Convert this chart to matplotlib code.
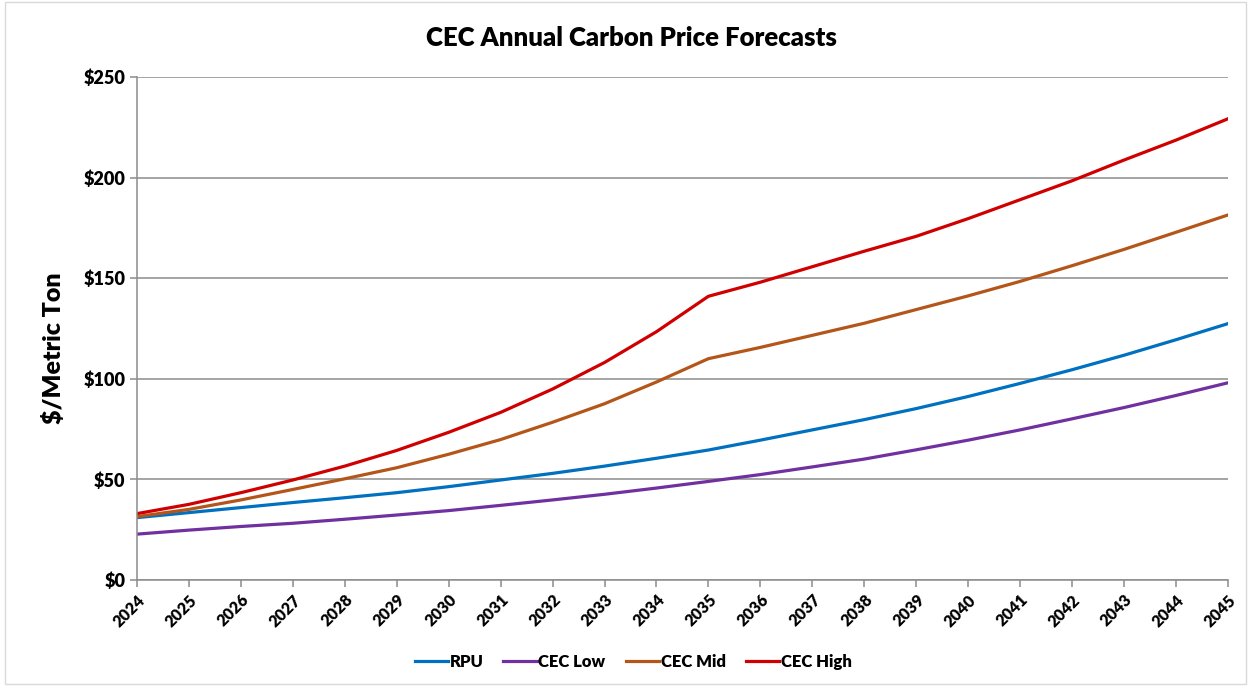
import matplotlib
matplotlib.use("Agg")
import matplotlib.pyplot as plt
from matplotlib.patches import Rectangle

years = list(range(2024, 2046))
rpu = [31.0, 33.5, 36.0, 38.5, 40.9, 43.4, 46.4, 49.7, 53.0, 56.6, 60.5,
       64.6, 69.5, 74.6, 79.7, 85.2, 91.2, 97.7, 104.5, 111.7, 119.4, 127.4]
cec_low = [22.8, 24.8, 26.6, 28.2, 30.2, 32.3, 34.5, 37.1, 39.8, 42.6, 45.7,
           49.0, 52.4, 56.2, 60.1, 64.7, 69.5, 74.6, 80.1, 85.7, 91.7, 98.0]
cec_mid = [31.5, 35.1, 39.8, 45.0, 50.3, 55.8, 62.5, 69.8, 78.4, 87.6, 98.4,
           110.0, 115.6, 121.6, 127.6, 134.4, 141.2, 148.4, 156.2, 164.3, 172.8, 181.4]
cec_high = [33.0, 37.6, 43.4, 49.7, 56.6, 64.4, 73.4, 83.3, 94.9, 108.1, 123.4,
            141.0, 148.0, 155.7, 163.4, 170.8, 179.6, 189.0, 198.4, 208.7, 218.6, 229.2]
y_ticks = [0, 50, 100, 150, 200, 250]

plt.rcParams['font.family'] = ['Lato', 'DejaVu Sans']
W = 'heavy'

fig = plt.figure(figsize=(12.51, 6.86), dpi=100)
ax = fig.add_axes([0.1095, 0.1545, 0.872, 0.7333])

series = [("RPU", rpu, "#0070C0"),
          ("CEC Low", cec_low, "#7030A0"),
          ("CEC Mid", cec_mid, "#B4561A"),
          ("CEC High", cec_high, "#D00000")]
for name, vals, col in series:
    ax.plot(years, vals, color=col, lw=2.3, label=name, solid_joinstyle='miter')

ax.set_xlim(2024, 2045)
ax.set_ylim(0, 250)
ax.set_yticks(y_ticks)
ax.set_yticklabels(["$%d" % v for v in y_ticks], fontsize=13, fontweight=W)
ax.set_xticks(years)
ax.set_xticklabels([str(y) for y in years], rotation=45, ha='right',
                   rotation_mode='anchor', fontsize=11.5, fontweight=W)
ax.grid(axis='y', color='#8c8c8c', lw=1.1)
ax.set_axisbelow(True)
for s in ['top', 'right']:
    ax.spines[s].set_visible(False)
for s in ['left', 'bottom']:
    ax.spines[s].set_color('#8c8c8c')
    ax.spines[s].set_linewidth(1.1)
ax.tick_params(color='#8c8c8c', length=5, width=1.1)

ax.set_ylabel("$/Metric Ton", fontsize=18, fontweight=W)
ax.yaxis.set_label_coords(-0.066, 0.46)
fig.text(0.505, 0.945, "CEC Annual Carbon Price Forecasts", ha='center', va='center',
         fontsize=18.5, fontweight=W)

leg = fig.legend(loc='center', bbox_to_anchor=(0.506, 0.035), ncol=4, frameon=False,
                 prop={'weight': W, 'size': 12}, handlelength=2.0,
                 handletextpad=0.1, columnspacing=1.2)

fig.patches.append(Rectangle((0.004, 0.003), 0.992, 0.994, transform=fig.transFigure,
                             fill=False, edgecolor='#d9d9d9', lw=1))

fig.savefig("out.png", dpi=100)
